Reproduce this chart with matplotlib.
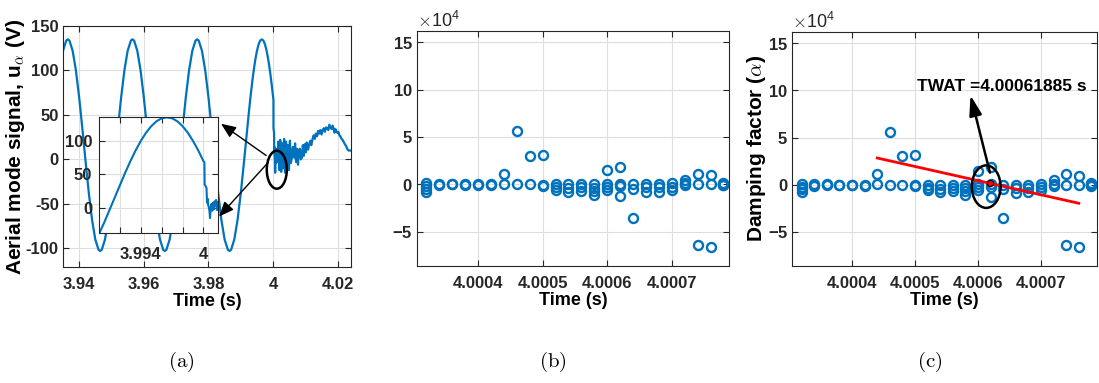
import numpy as np
import matplotlib
matplotlib.use('Agg')
import matplotlib.pyplot as plt
from matplotlib.patches import Ellipse, FancyArrowPatch

plt.rcParams['font.family'] = ['Liberation Sans', 'DejaVu Sans']
plt.rcParams['font.weight'] = 'bold'
plt.rcParams['axes.labelweight'] = 'bold'
plt.rcParams['mathtext.fontset'] = 'cm'
plt.rcParams['axes.unicode_minus'] = False

# (a) aerial mode voltage
wave_t = [3.935, 3.936, 3.9365, 3.937, 3.938, 3.939, 3.940, 3.941, 3.942, 3.943, 3.944,
          3.945, 3.946, 3.9465, 3.947, 3.948, 3.949, 3.950, 3.951, 3.952, 3.953, 3.954,
          3.955, 3.956, 3.9565, 3.957, 3.958, 3.959, 3.960, 3.961, 3.962, 3.963, 3.964,
          3.965, 3.966, 3.9665, 3.967, 3.968, 3.969, 3.970, 3.971, 3.972, 3.973, 3.974,
          3.975, 3.976, 3.9765, 3.977, 3.978, 3.979, 3.980, 3.981, 3.982, 3.983, 3.984,
          3.985, 3.986, 3.9865, 3.987, 3.988, 3.989,
          3.9900, 3.9905, 3.9910, 3.9915, 3.9920, 3.9925, 3.9930, 3.9935, 3.9940, 3.9945,
          3.9950, 3.9955, 3.9960, 3.9965, 3.9970, 3.9975, 3.9980, 3.9985, 3.9990, 3.9995,
          4.0000, 4.0001, 4.00012, 4.0002, 4.0003, 4.00035, 4.0004, 4.00045, 4.0005, 4.00058,
          4.00064, 4.0007, 4.00078, 4.00085, 4.00092, 4.0010, 4.00108, 4.00115, 4.00122,
          4.0013, 4.00137, 4.00144,
          4.0016, 4.0019, 4.0022, 4.0025, 4.0028, 4.0031, 4.0034, 4.0037, 4.0040, 4.0043,
          4.0046, 4.0049, 4.0052, 4.0055, 4.0058, 4.0061, 4.0065, 4.0068, 4.0071, 4.0074,
          4.0077, 4.0080, 4.0083, 4.0086, 4.0089, 4.0092, 4.0095, 4.0098, 4.0101, 4.0104,
          4.0108, 4.0111, 4.0115, 4.0118, 4.0122, 4.0125, 4.0129, 4.0132, 4.0136, 4.0139,
          4.0143, 4.0146, 4.0150, 4.0153, 4.0157, 4.0160, 4.0164, 4.0167, 4.0171, 4.0174,
          4.0178, 4.0181, 4.0184, 4.0187, 4.0190, 4.0193, 4.0196, 4.0199, 4.0202, 4.0205,
          4.0208, 4.0212, 4.0215, 4.0219, 4.0222, 4.0226, 4.0229, 4.0233, 4.0237, 4.0241]
wave_v = [122.0, 133.6, 135.0, 133.6, 122.0, 100.1, 70.0, 34.6, -2.6, -38.0, -68.1,
          -90.0, -101.6, -103.0, -101.6, -90.0, -68.1, -38.0, -2.6, 34.6, 70.0, 100.1,
          122.0, 133.6, 135.0, 133.6, 122.0, 100.1, 70.0, 34.6, -2.6, -38.0, -68.1,
          -90.0, -101.6, -103.0, -101.6, -90.0, -68.1, -38.0, -2.6, 34.6, 70.0, 100.1,
          122.0, 133.6, 135.0, 133.6, 122.0, 100.1, 70.0, 34.6, -2.6, -38.0, -68.1,
          -90.0, -101.6, -103.0, -101.6, -90.0, -68.1,
          -38.0, -20.8, -2.6, 16.0, 34.6, 52.8, 70.0, 86.0, 100.1, 112.3,
          122.0, 129.2, 133.6, 135.0, 133.6, 129.2, 122.0, 112.3, 100.1, 86.0,
          70.0, 68, 35, 33, 30, 8, 14, 5, 3, -4,
          -15, 0, 6, -4, 8, -2, 10, 3, 12,
          -3, 9, 4,
          20, -12, 22, -14, 18, -10, 23, -15, 20, -8,
          16, -12, 21, -4, 2, 14, 2, 18, -3, 12,
          -6, 10, 12, 0, 2, 16, 4, 17, 8, 19,
          11, 16, 21, 16, 23, 27, 23, 29, 26, 32,
          29, 33, 28, 33, 35, 31, 36, 35, 33, 39,
          36, 34, 38, 35, 30, 34, 31, 30, 31, 27,
          26, 23, 22, 19, 17, 15, 12, 10, 10, 10]

# (b), (c) damping factor, x1e4, several estimates per time step
alpha_t = [4.00032, 4.00034, 4.00036, 4.00038, 4.00040, 4.00042, 4.00044, 4.00046,
           4.00048, 4.00050, 4.00052, 4.00054, 4.00056, 4.00058, 4.00060, 4.00062,
           4.00064, 4.00066, 4.00068, 4.00070, 4.00072, 4.00074, 4.00076, 4.00078]
alpha_e4 = [[0.1, -0.2, -0.5, -0.8], [0.05, -0.1], [0.0, 0.05], [0.0, -0.05],
            [0.0, -0.05], [0.0, -0.1], [1.1, 0.05], [5.6, 0.0],
            [3.0, 0.0], [3.1, -0.05, -0.15], [0.0, -0.3, -0.6], [0.0, -0.4, -0.8],
            [0.0, -0.3, -0.7], [0.0, -0.35, -0.7, -1.1], [1.5, 0.05, -0.25, -0.6],
            [1.85, 0.05, -0.2, -1.25], [0.0, -0.5, -3.5], [0.0, -0.3, -0.85],
            [0.0, -0.3, -0.8], [0.1, -0.25, -0.6], [0.5, 0.1, -0.1],
            [1.1, 0.0, -6.35], [0.95, 0.0, -6.6], [0.15, 0.05, -0.05, -0.1]]
fit_t = [4.00044, 4.00076]
fit_e4 = [2.83, -1.96]
twat = 4.00061885
twat_e4 = 0.15

blue = '#0072BD'
dark = '#262626'


def style(ax, size=12):
    ax.grid(True, color='#dedede', lw=0.8)
    ax.set_axisbelow(True)
    ax.tick_params(direction='in', top=True, right=True, length=4, width=0.8,
                   color=dark, labelcolor=dark, labelsize=size)
    ax.tick_params(axis='x', pad=7)
    ax.tick_params(axis='y', pad=3)
    for s in ax.spines.values():
        s.set_color(dark)
        s.set_linewidth(0.8)


fig = plt.figure(figsize=(10.99, 3.83), dpi=100)
axa = fig.add_axes([0.0573, 0.3029, 0.2621, 0.6292])
axb = fig.add_axes([0.3792, 0.3055, 0.2844, 0.6144])
axc = fig.add_axes([0.7209, 0.3055, 0.2773, 0.6117])
ins = fig.add_axes([0.0901, 0.3909, 0.1086, 0.3044])

# ---- (a)
style(axa)
axa.plot(wave_t, wave_v, color=blue, lw=1.6)
axa.set_xlim(3.935, 4.0241)
axa.set_ylim(-121, 150)
axa.set_xticks([3.94, 3.96, 3.98, 4.0, 4.02])
axa.set_xticklabels(['3.94', '3.96', '3.98', '4', '4.02'])
axa.set_yticks([-100, -50, 0, 50, 100, 150])
axa.set_yticklabels(['-100', '-50', '0', '50', '100', '150'])
axa.set_xlabel('Time (s)', fontsize=13, labelpad=1)
axa.set_ylabel(r'Aerial mode signal, u$_\alpha$ (V)', fontsize=15, labelpad=-1)
axa.add_patch(Ellipse((4.00114, -11.6), 0.0062, 42.7, fill=False, ec='k', lw=1.8, zorder=5))

style(ins)
ins.set_facecolor('white')
ins.plot(wave_t, wave_v, color=blue, lw=1.5)
ins.set_xlim(3.98998, 4.00144)
ins.set_ylim(-37.6, 136)
ins.set_xticks([3.992, 3.994, 3.996, 3.998, 4.0])
ins.set_xticklabels(['', '3.994', '', '', '4'])
ins.set_yticks([0, 50, 100])
ins.set_yticklabels(['0', '50', '100'])
ins.tick_params(axis='x', pad=10)
ins.tick_params(axis='y', pad=5)

for tail, head in [((3.99855, 2.6), (3.98318, 41.9)), ((3.99907, -1.1), (3.98269, -66.6))]:
    fig.add_artist(FancyArrowPatch(tail, head, transform=axa.transData,
                                   arrowstyle='-|>,head_length=0.6,head_width=0.25',
                                   mutation_scale=15, lw=1, color='k'))

# ---- (b), (c)
xs, ys = [], []
for t, vals in zip(alpha_t, alpha_e4):
    for v in vals:
        xs.append(t)
        ys.append(v * 1e4)

for ax in (axb, axc):
    style(ax)
    ax.plot(xs, ys, 'o', mfc='none', mec=blue, ms=6.5, mew=1.7)
    ax.set_xlim(4.000305, 4.000789)
    ax.set_ylim(-8.6e4, 16.2e4)
    ax.set_xticks([4.0004, 4.0005, 4.0006, 4.0007])
    ax.set_xticklabels(['4.0004', '4.0005', '4.0006', '4.0007'])
    ax.set_yticks([-5e4, 0, 5e4, 10e4, 15e4])
    ax.ticklabel_format(axis='y', style='sci', scilimits=(4, 4), useMathText=True)
    ax.yaxis.get_offset_text().set_fontsize(13)
    ax.yaxis.get_offset_text().set_fontweight('normal')
    ax.set_xlabel('Time (s)', fontsize=13, labelpad=1)

axc.set_ylabel(r'Damping factor ($\alpha$)', fontsize=15, labelpad=0)
axc.plot(fit_t, np.array(fit_e4) * 1e4, color='#ff0000', lw=2)
axc.add_patch(Ellipse((4.000613, -0.2e4), 4.57e-5, 4.5e4, fill=False, ec='k', lw=1.8, zorder=5))
axc.plot([twat], [twat_e4 * 1e4], 'o', mfc='#ff0000', mec='k', ms=4.5, mew=0.8, zorder=6)
axc.annotate('', xy=(4.000587, 9.75e4), xytext=(4.000620, 1.0e4),
             arrowprops=dict(arrowstyle='-|>,head_length=0.8,head_width=0.25',
                             mutation_scale=15, lw=1.8, color='k'))
axc.text(4.000503, 10.35e4, 'TWAT =4.00061885 s', fontsize=12.5, va='center', ha='left')

for x, lab in [(181, '(a)'), (553, '(b)'), (930, '(c)')]:
    fig.text(x / 1099, 1 - 362 / 383, r'$\mathrm{' + lab + '}$', ha='center', va='center',
             fontsize=15)

fig.savefig('out.png', dpi=100)
